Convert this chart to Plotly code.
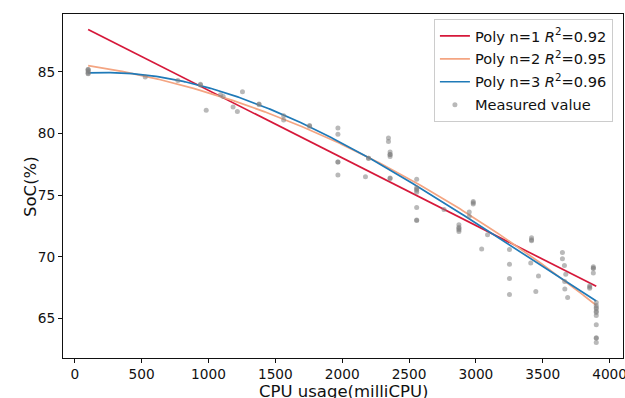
import numpy as np
import plotly.graph_objects as go

# Measured data (CPU usage in milliCPU, SoC in %)
cpu_usage = [100, 100, 100, 100, 100, 100,
             527, 771, 940, 940, 983, 1090, 1110, 1184, 1216, 1254, 1378, 1378,
             1562, 1562, 1756, 1756,
             1968, 1968, 1968, 1968, 1968,
             2174, 2197, 2197,
             2346, 2346, 2358, 2358, 2358, 2358, 2358, 2358,
             2557, 2557, 2557, 2557, 2557, 2557, 2557, 2557,
             2761,
             2873, 2873, 2873, 2873, 2873,
             2950, 2950, 2980, 2980, 2980,
             3043, 3087,
             3251, 3251, 3251, 3251,
             3416, 3416, 3416, 3410, 3468, 3448,
             3647, 3647, 3662, 3672, 3664, 3665, 3686,
             3878, 3878, 3878, 3878, 3851, 3851, 3851,
             3900, 3900, 3900, 3900, 3900, 3900, 3900, 3900, 3900, 3900, 3900]
soc = [85.2, 85.2, 85.1, 85.0, 84.9, 84.85,
       84.6, 84.3, 84.0, 83.95, 81.9, 83.15, 83.0, 82.15, 81.8, 83.4, 82.4, 82.35,
       81.45, 81.1, 80.65, 80.6,
       80.45, 79.95, 77.7, 77.7, 76.65,
       76.5, 78.0, 78.0,
       79.65, 79.35, 78.5, 78.3, 78.15, 78.3, 76.4, 76.35,
       76.3, 75.6, 75.4, 75.25, 75.5, 74.0, 72.95, 73.0,
       73.85,
       72.6, 72.4, 72.2, 72.05, 72.3,
       73.65, 73.3, 74.5, 74.3, 74.4,
       70.65, 71.8,
       70.6, 69.4, 68.25, 66.95,
       71.55, 71.3, 71.4, 69.5, 68.45, 67.2,
       70.35, 69.85, 69.3, 68.6, 68.0, 67.4, 66.7,
       69.2, 69.05, 69.1, 68.7, 67.65, 67.45, 67.55,
       66.3, 66.05, 65.8, 65.5, 65.25, 65.6, 65.9, 64.5, 63.45, 63.4, 63.05]

# Polynomial fit coefficients (highest degree first), in terms of u = CPU/1000
poly1 = [-5.48, 88.99]
poly2 = [-0.9194, -1.4394, 85.67]
poly3 = [0.2375, -2.4073, 1.0534, 84.836]
fit_names = ["Poly n=1 <i>R</i><sup>2</sup>=0.92",
             "Poly n=2 <i>R</i><sup>2</sup>=0.95",
             "Poly n=3 <i>R</i><sup>2</sup>=0.96"]
fit_colors = ["#d6183a", "#f4a582", "#1f7ab8"]

x_tick_vals = [0, 500, 1000, 1500, 2000, 2500, 3000, 3500, 4000]
y_tick_vals = [65, 70, 75, 80, 85]

xs = np.linspace(min(cpu_usage), max(cpu_usage), 300)
fig = go.Figure()
for i, (coeffs, name, color) in enumerate(zip([poly1, poly2, poly3], fit_names, fit_colors)):
    fig.add_trace(go.Scatter(x=xs, y=np.polyval(coeffs, xs / 1000.0), mode="lines",
                             name=name, legendgroup=f"g{i}",
                             line=dict(color=color, width=1.7)))
fig.add_trace(go.Scatter(x=cpu_usage, y=soc, mode="markers", name="Measured value",
                         legendgroup="g3",
                         marker=dict(color="rgba(128,128,128,0.55)", size=5, line=dict(width=0))))

font = "DejaVu Sans"
axis_common = dict(showgrid=False, zeroline=False, showline=True, linecolor="#111",
                   linewidth=1, mirror=True, ticks="outside", ticklen=4, tickcolor="#111",
                   ticklabeloverflow="allow",
                   tickfont=dict(family=font, size=13.7, color="#111"))
fig.update_layout(
    width=625, height=398,
    margin=dict(l=63, r=2, t=14, b=40),
    paper_bgcolor="white", plot_bgcolor="white",
    showlegend=True,
    legend=dict(x=0.982, y=0.986, xanchor="right", yanchor="top", tracegroupgap=1,
                bgcolor="rgba(255,255,255,0.85)", bordercolor="#ccc", borderwidth=1,
                font=dict(family=font, size=14.6, color="#111")),
    xaxis=dict(range=[-88, 4100], tickvals=x_tick_vals, automargin=False, **axis_common),
    yaxis=dict(range=[61.8, 89.7], tickvals=y_tick_vals, automargin=False, **axis_common),
    annotations=[
        dict(text="CPU usage(milliCPU)", xref="paper", yref="paper", x=0.5, y=-0.097,
             xanchor="center", yanchor="middle", showarrow=False,
             font=dict(family=font, size=16.5, color="#111")),
        dict(text="SoC(%)", xref="paper", yref="paper", x=-0.059, y=0.5, textangle=-90,
             xanchor="center", yanchor="middle", showarrow=False,
             font=dict(family=font, size=16.5, color="#111")),
    ],
)
fig.write_html("out.html")
